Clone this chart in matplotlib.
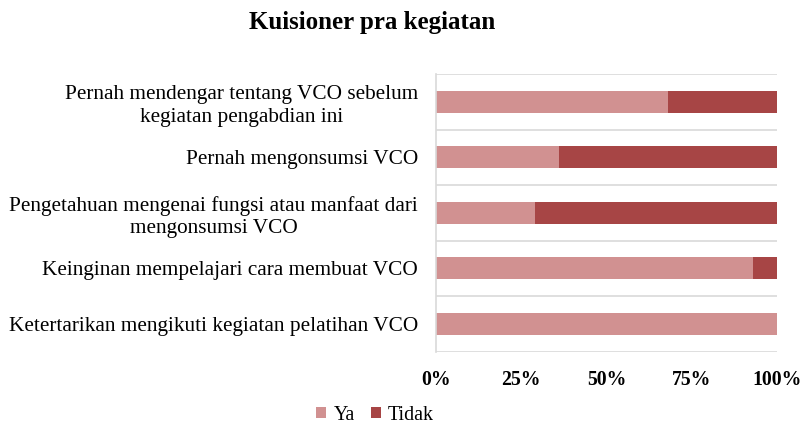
import numpy as np
import matplotlib.pyplot as plt

# Questionnaire results (percent), top to bottom
categories = [
    'Pernah mendengar tentang VCO sebelum\nkegiatan pengabdian ini',
    'Pernah mengonsumsi VCO',
    'Pengetahuan mengenai fungsi atau manfaat dari\nmengonsumsi VCO',
    'Keinginan mempelajari cara membuat VCO',
    'Ketertarikan mengikuti kegiatan pelatihan VCO',
]
ya = [68, 36, 29, 93, 100]
tidak = [32, 64, 71, 7, 0]
xticks = [0, 25, 50, 75, 100]

plt.rcParams['font.family'] = ['Liberation Serif', 'DejaVu Serif']

fig = plt.figure(figsize=(8.03, 4.26), dpi=100)
ax = fig.add_axes([436 / 803, 1 - 351.5 / 426, 341 / 803, 277.5 / 426])

y = np.arange(len(categories))
ax.barh(y, ya, height=0.4, color='#D19191', label='Ya')
ax.barh(y, tidak, left=ya, height=0.4, color='#A74545', label='Tidak')

ax.set_ylim(len(categories) - 0.5, -0.5)
ax.set_xlim(0, 100)
ax.set_yticks(y)
ax.set_yticklabels(categories, fontsize=15.3, ha='right', multialignment='center',
                   linespacing=1.25)
ax.tick_params(axis='y', length=0, pad=13)
ax.set_xticks(xticks)
ax.set_xticklabels([f'{v}%' for v in xticks], fontsize=14.2, fontweight='bold')
ax.tick_params(axis='x', length=0, pad=13)

# category boundary gridlines
ax.set_yticks(np.arange(-0.5, len(categories), 1), minor=True)
ax.tick_params(axis='y', which='minor', length=0)
ax.grid(True, axis='y', which='minor', color='#D9D9D9', linewidth=1.2)
ax.set_axisbelow(True)

for s in ['top', 'right', 'bottom']:
    ax.spines[s].set_visible(False)
ax.spines['left'].set_color('#D9D9D9')
ax.spines['left'].set_linewidth(1.2)

fig.text(372 / 803, 1 - 22 / 426, 'Kuisioner pra kegiatan', fontsize=18,
         fontweight='bold', ha='center', va='center')

fig.legend(loc='center', bbox_to_anchor=(375 / 803, 1 - 415 / 426), ncol=2,
           frameon=False, fontsize=14.4, handlelength=0.5, handleheight=0.5,
           columnspacing=0.8, handletextpad=0.35)

fig.savefig('out.png', dpi=100)
